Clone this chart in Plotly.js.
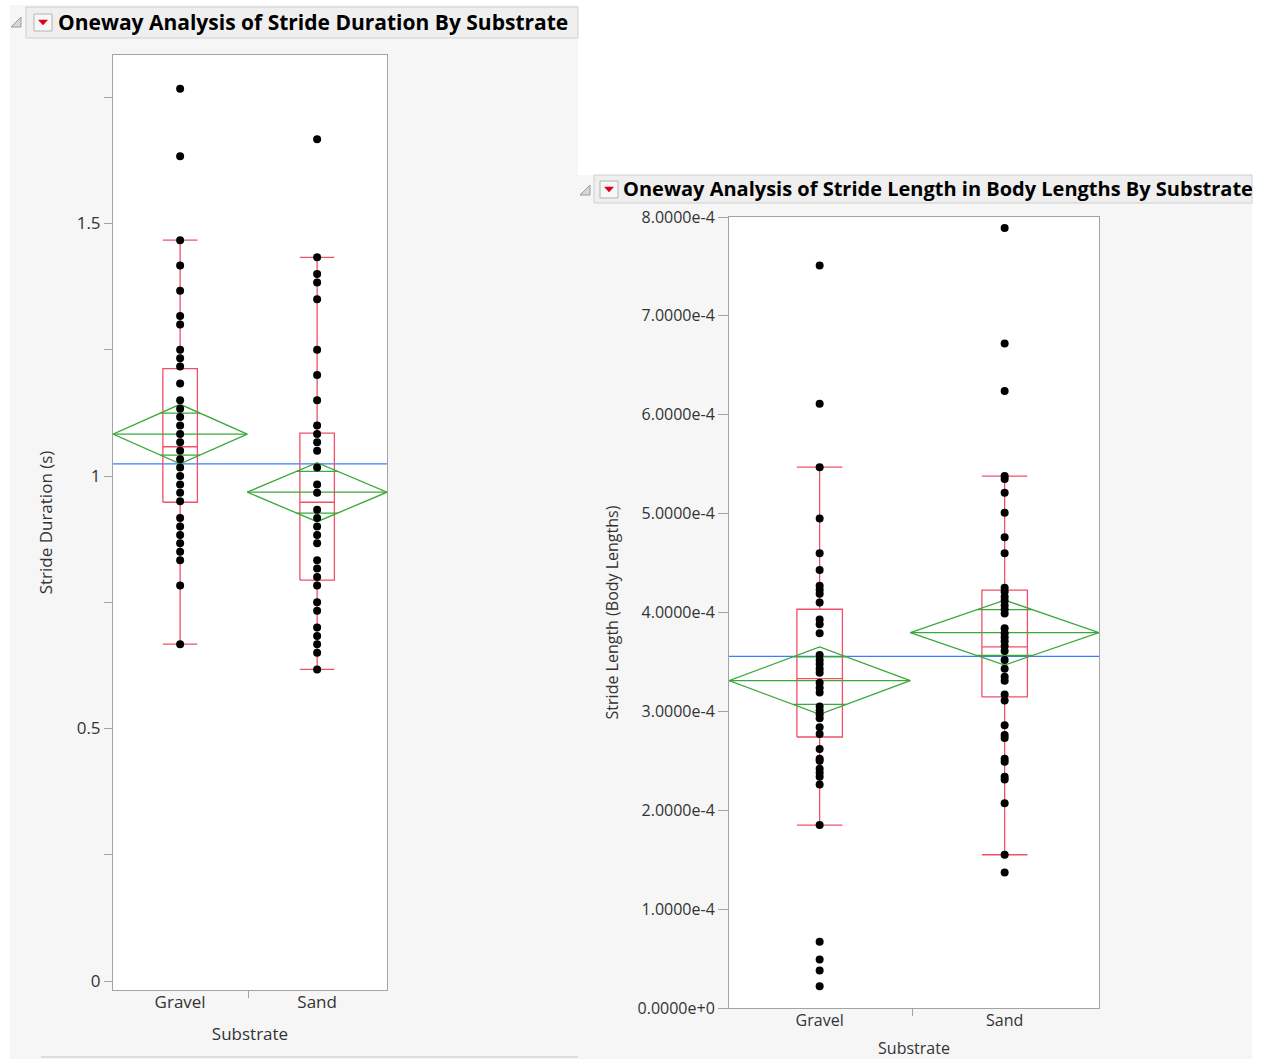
<!DOCTYPE html>
<html>
<head>
<meta charset="utf-8">
<script src="https://cdn.plot.ly/plotly-3.0.1.min.js"></script>
<style>
  html, body { margin: 0; padding: 0; background: #ffffff; }
  #chart { width: 1261px; height: 1059px; }
</style>
</head>
<body>
<div id="chart"></div>
<script>
// ---------- data ----------
const substrates = ['Gravel', 'Sand'];

// Stride duration (s)
const durGravel = [1.767, 1.633, 1.467, 1.417, 1.367, 1.317, 1.300, 1.250, 1.233, 1.217, 1.183,
  1.150, 1.133, 1.117, 1.100, 1.083, 1.067, 1.050, 1.033, 1.017, 1.000, 0.983, 0.967, 0.950,
  0.917, 0.900, 0.883, 0.867, 0.850, 0.833, 0.783, 0.667];
const durSand = [1.667, 1.433, 1.400, 1.383, 1.350, 1.250, 1.200, 1.150, 1.100, 1.083, 1.067,
  1.050, 1.017, 0.983, 0.967, 0.933, 0.917, 0.900, 0.883, 0.867, 0.833, 0.817, 0.800, 0.783,
  0.750, 0.733, 0.700, 0.683, 0.667, 0.650, 0.617];
const durQ1 = [0.948, 0.794];
const durMedian = [1.058, 0.948];
const durQ3 = [1.2125, 1.085];
const durWhiskerLo = [0.667, 0.617];
const durWhiskerHi = [1.467, 1.433];
const durMean = [1.083, 0.968];
const durCIHalf = [0.059, 0.0585];
const durGrandMean = 1.024;
const durTickVals = [0, 0.5, 1, 1.5];
const durTickText = ['0', '0.5', '1', '1.5'];
const durMinorTicks = [0.25, 0.75, 1.25, 1.75];

// Stride length in body lengths
const lenGravel = [7.51e-4, 6.11e-4, 5.47e-4, 4.95e-4, 4.60e-4, 4.43e-4, 4.27e-4, 4.23e-4,
  4.19e-4, 4.10e-4, 3.93e-4, 3.88e-4, 3.79e-4, 3.57e-4, 3.52e-4, 3.48e-4, 3.43e-4, 3.39e-4,
  3.29e-4, 3.24e-4, 3.19e-4, 3.05e-4, 3.01e-4, 2.97e-4, 2.93e-4, 2.84e-4, 2.77e-4, 2.62e-4,
  2.52e-4, 2.50e-4, 2.42e-4, 2.38e-4, 2.34e-4, 2.26e-4, 1.85e-4, 0.67e-4, 0.49e-4, 0.38e-4,
  0.22e-4];
const lenSand = [7.89e-4, 6.72e-4, 6.24e-4, 5.38e-4, 5.35e-4, 5.21e-4, 5.01e-4, 4.76e-4,
  4.60e-4, 4.25e-4, 4.21e-4, 4.16e-4, 4.12e-4, 4.07e-4, 4.03e-4, 3.99e-4, 3.84e-4, 3.79e-4,
  3.75e-4, 3.71e-4, 3.66e-4, 3.61e-4, 3.52e-4, 3.43e-4, 3.35e-4, 3.31e-4, 3.17e-4, 3.11e-4,
  2.86e-4, 2.76e-4, 2.73e-4, 2.52e-4, 2.49e-4, 2.34e-4, 2.31e-4, 2.07e-4, 1.55e-4, 1.37e-4];
const lenQ1 = [2.741e-4, 3.146e-4];
const lenMedian = [3.331e-4, 3.652e-4];
const lenQ3 = [4.033e-4, 4.226e-4];
const lenWhiskerLo = [1.85e-4, 1.55e-4];
const lenWhiskerHi = [5.47e-4, 5.38e-4];
const lenMean = [3.311e-4, 3.797e-4];
const lenCIHalf = [0.34e-4, 0.328e-4];
const lenGrandMean = 3.557e-4;
const lenTickVals = [0, 1e-4, 2e-4, 3e-4, 4e-4, 5e-4, 6e-4, 7e-4, 8e-4];
const lenTickText = ['0.0000e+0', '1.0000e-4', '2.0000e-4', '3.0000e-4', '4.0000e-4',
  '5.0000e-4', '6.0000e-4', '7.0000e-4', '8.0000e-4'];

// ---------- drawing ----------
const W = 1261, H = 1059;
const FONT = 'Open Sans, Noto Sans, sans-serif';
const RED = '#f0506a', GREEN = '#3aa83a', BLUE = '#3f7bff', FRAME = '#a3a3a3';
const cellHalf = [0.49, 0.51];   // diamond half-width for each group cell

const px = v => v / W;
const py = v => 1 - v / H;

function groupTraces(xa, ya, boxHalf, s) {
  const traces = [];
  const rx = [], ry = [], gx = [], gy = [];
  s.mean.forEach((m, i) => {
    const b = boxHalf, d = cellHalf[i], ci = s.ci[i];
    // quantile box, median, whiskers and caps
    rx.push(i - b, i + b, i + b, i - b, i - b, null); ry.push(s.q1[i], s.q1[i], s.q3[i], s.q3[i], s.q1[i], null);
    rx.push(i - b, i + b, null); ry.push(s.med[i], s.med[i], null);
    rx.push(i, i, null); ry.push(s.q3[i], s.hi[i], null);
    rx.push(i, i, null); ry.push(s.q1[i], s.lo[i], null);
    rx.push(i - b, i + b, null); ry.push(s.hi[i], s.hi[i], null);
    rx.push(i - b, i + b, null); ry.push(s.lo[i], s.lo[i], null);
    // means diamond with overlap marks
    gx.push(i - d, i, i + d, i, i - d, null); gy.push(m, m + ci, m, m - ci, m, null);
    gx.push(i - d, i + d, null); gy.push(m, m, null);
    const oh = d * (1 - Math.SQRT1_2), oy = ci * Math.SQRT1_2;
    gx.push(i - oh, i + oh, null); gy.push(m + oy, m + oy, null);
    gx.push(i - oh, i + oh, null); gy.push(m - oy, m - oy, null);
  });
  traces.push({ type: 'scatter', mode: 'lines', x: rx, y: ry, xaxis: xa, yaxis: ya,
    line: { color: RED, width: 1.3 }, hoverinfo: 'skip' });
  traces.push({ type: 'scatter', mode: 'lines', x: gx, y: gy, xaxis: xa, yaxis: ya,
    line: { color: GREEN, width: 1.3 }, hoverinfo: 'skip' });
  s.points.forEach((vals, i) => {
    traces.push({ type: 'scatter', mode: 'markers', x: vals.map(() => i), y: vals,
      xaxis: xa, yaxis: ya, name: substrates[i],
      marker: { color: '#000000', size: 8 } });
  });
  return traces;
}

const data = [].concat(
  groupTraces('x', 'y', 0.126, {
    points: [durGravel, durSand], q1: durQ1, med: durMedian, q3: durQ3,
    lo: durWhiskerLo, hi: durWhiskerHi, mean: durMean, ci: durCIHalf }),
  groupTraces('x2', 'y2', 0.123, {
    points: [lenGravel, lenSand], q1: lenQ1, med: lenMedian, q3: lenQ3,
    lo: lenWhiskerLo, hi: lenWhiskerHi, mean: lenMean, ci: lenCIHalf })
);

// the duration report is shown slightly larger than the length report
const fontL = { family: FONT, size: 17, color: '#333333' };
const fontR = { family: FONT, size: 16, color: '#333333' };

function xAxis(domain, anchor, font, labelShift, standoff) {
  return {
    domain: domain, anchor: anchor, range: [-0.49, 1.51], fixedrange: true,
    tickmode: 'array', tickvals: [0, 1], ticktext: substrates, ticks: '',
    ticklabelstandoff: labelShift,
    tickfont: font, showgrid: false, zeroline: false,
    showline: true, mirror: true, linecolor: FRAME, linewidth: 1,
    minor: { tickmode: 'array', tickvals: [0.5], ticks: 'outside', ticklen: 7,
             tickcolor: FRAME, tickwidth: 1, showgrid: false },
    title: { text: 'Substrate', font: font, standoff: standoff }
  };
}

// panel backgrounds, title bars and header icons
function pathPx(pts) {
  return 'M' + pts.map(p => px(p[0]) + ',' + py(p[1])).join('L') + 'Z';
}
function header(x0, x1, y0, y1, triX, triY, iconX, iconY) {
  return [
    { type: 'rect', xref: 'paper', yref: 'paper', layer: 'below',
      x0: px(x0), x1: px(x1), y0: py(y1), y1: py(y0),
      fillcolor: '#efefef', line: { color: '#cfcfcf', width: 1 } },
    { type: 'path', xref: 'paper', yref: 'paper', layer: 'below',
      path: pathPx([[triX, triY + 10], [triX + 10, triY + 10], [triX + 10, triY]]),
      fillcolor: '#d6d6d6', line: { color: '#9c9c9c', width: 1 } },
    { type: 'rect', xref: 'paper', yref: 'paper', layer: 'below',
      x0: px(iconX), x1: px(iconX + 18), y0: py(iconY + 17), y1: py(iconY),
      fillcolor: '#f7f7f7', line: { color: '#b4b4b4', width: 1 } },
    { type: 'path', xref: 'paper', yref: 'paper', layer: 'below',
      path: pathPx([[iconX + 4.5, iconY + 6], [iconX + 13.5, iconY + 6], [iconX + 9, iconY + 11]]),
      fillcolor: '#d8001c', line: { color: '#d8001c', width: 0.5 } }
  ];
}

const shapes = [
  { type: 'rect', xref: 'paper', yref: 'paper', layer: 'below',
    x0: px(10), x1: px(578), y0: 0, y1: py(5), fillcolor: '#f6f6f6', line: { width: 0 } },
  { type: 'rect', xref: 'paper', yref: 'paper', layer: 'below',
    x0: px(578), x1: px(1252), y0: 0, y1: py(175), fillcolor: '#f6f6f6', line: { width: 0 } },
  { type: 'line', xref: 'paper', yref: 'paper', layer: 'below',
    x0: px(41), x1: px(578), y0: py(1057), y1: py(1057), line: { color: '#d4d4d4', width: 1.5 } }
].concat(
  header(26, 578, 7, 38, 11, 17, 34, 14),
  header(594, 1252, 175, 203, 580, 185, 600, 181),
  [
    { type: 'rect', xref: 'x domain', yref: 'y domain', layer: 'below',
      x0: 0, x1: 1, y0: 0, y1: 1, fillcolor: '#ffffff', line: { width: 0 } },
    { type: 'rect', xref: 'x2 domain', yref: 'y2 domain', layer: 'below',
      x0: 0, x1: 1, y0: 0, y1: 1, fillcolor: '#ffffff', line: { width: 0 } },
    { type: 'line', xref: 'x domain', yref: 'y', layer: 'below',
      x0: 0, x1: 1, y0: durGrandMean, y1: durGrandMean, line: { color: BLUE, width: 1.3 } },
    { type: 'line', xref: 'x2 domain', yref: 'y2', layer: 'below',
      x0: 0, x1: 1, y0: lenGrandMean, y1: lenGrandMean, line: { color: BLUE, width: 1.3 } }
  ]
);

const annotations = [
  { xref: 'paper', yref: 'paper', x: px(56), y: py(22), xanchor: 'left', yanchor: 'middle',
    showarrow: false, text: '<b>Oneway Analysis of Stride Duration By Substrate</b>',
    font: { family: FONT, size: 21, color: '#000000' } },
  { xref: 'paper', yref: 'paper', x: px(621), y: py(189), xanchor: 'left', yanchor: 'middle',
    showarrow: false, text: '<b>Oneway Analysis of Stride Length in Body Lengths By Substrate</b>',
    font: { family: FONT, size: 20, color: '#000000' } }
];

const layout = {
  width: W, height: H,
  margin: { l: 0, r: 0, t: 0, b: 0 },
  paper_bgcolor: '#ffffff', plot_bgcolor: 'rgba(0,0,0,0)',
  showlegend: false, hovermode: 'closest',
  font: { family: FONT },
  xaxis: xAxis([px(113), px(387)], 'y', fontL, -3, 15),
  yaxis: {
    domain: [py(990), py(55)], anchor: 'x', range: [-0.0178, 1.8337], fixedrange: true,
    tickmode: 'array', tickvals: durTickVals, ticktext: durTickText,
    ticks: 'outside', ticklen: 8, tickcolor: FRAME, tickfont: fontL,
    minor: { tickmode: 'array', tickvals: durMinorTicks, ticks: 'outside', ticklen: 8,
             tickcolor: FRAME, showgrid: false },
    showgrid: false, zeroline: false, showline: true, mirror: true, linecolor: FRAME,
    title: { text: 'Stride Duration (s)', font: fontL, standoff: 19 }
  },
  xaxis2: xAxis([px(729), px(1099)], 'y2', fontR, -2, 16),
  yaxis2: {
    domain: [py(1008), py(217)], anchor: 'x2', range: [0, 8e-4], fixedrange: true,
    tickmode: 'array', tickvals: lenTickVals, ticktext: lenTickText,
    ticks: 'outside', ticklen: 10, tickcolor: FRAME, tickfont: fontR,
    showgrid: false, zeroline: false, showline: true, mirror: true, linecolor: FRAME,
    title: { text: 'Stride Length (Body Lengths)', font: fontR, standoff: 14 }
  },
  shapes: shapes,
  annotations: annotations
};

Plotly.newPlot('chart', data, layout, { displayModeBar: false, staticPlot: true });
</script>
</body>
</html>
